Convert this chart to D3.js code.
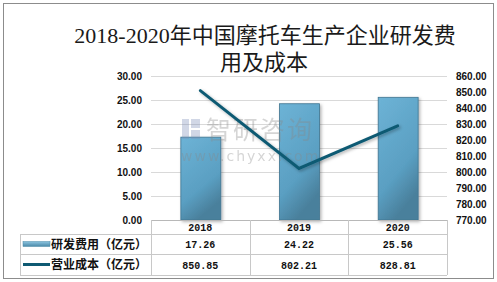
<!DOCTYPE html>
<meta charset="utf-8">
<style>
body { margin: 0; background: #fff; }
svg { display: block; font-family: "Liberation Mono", monospace; }
.tick text, .cell { font-size: 10px; font-weight: bold; fill: #111; }
.grid line { stroke: #d9d9d9; }
.tbl line { stroke: #c8c8c8; }
</style>
<body>
<script src="https://d3js.org/d3.v7.min.js"></script>
<script>

// data
var years = ["2018", "2019", "2020"];
var rdCost = [17.26, 24.22, 25.56];      // 研发费用（亿元）
var opCost = [850.85, 802.21, 828.81];   // 营业成本（亿元）
var leftTicks = [0, 5, 10, 15, 20, 25, 30];
var rightTicks = [770, 780, 790, 800, 810, 820, 830, 840, 850, 860];
var seriesNames = ["研发费用（亿元）", "营业成本（亿元）"];

var W = 497, H = 282;
var plot = {left: 151, right: 447, top: 76, bottom: 220};

var svg = d3.select("body").append("svg")
    .attr("width", W)
    .attr("height", H);

var defs = svg.append("defs");
var grad = defs.append("linearGradient")
    .attr("id", "barFill")
    .attr("x1", 0).attr("y1", 0).attr("x2", 0.4).attr("y2", 1);
grad.append("stop").attr("offset", "0%").attr("stop-color", "#6db3d6");
grad.append("stop").attr("offset", "70%").attr("stop-color", "#5a9fc2");
grad.append("stop").attr("offset", "100%").attr("stop-color", "#4a809c");

var legGrad = defs.append("linearGradient")
    .attr("id", "legFill")
    .attr("x1", 0).attr("y1", 0).attr("x2", 0).attr("y2", 1);
legGrad.append("stop").attr("offset", "0%").attr("stop-color", "#8cc4e0");
legGrad.append("stop").attr("offset", "100%").attr("stop-color", "#4a89a8");

var shadow = defs.append("filter").attr("id", "shadow")
    .attr("x", "-20%").attr("y", "-10%").attr("width", "150%").attr("height", "130%");
shadow.append("feDropShadow")
    .attr("dx", 1.5).attr("dy", 1.5).attr("stdDeviation", 1.5)
    .attr("flood-color", "#000").attr("flood-opacity", 0.3);

// outer frame
svg.append("rect")
    .attr("x", 3.5).attr("y", 3.5)
    .attr("width", 490).attr("height", 275)
    .attr("fill", "none")
    .attr("stroke", "#8c8c8c");

// title
var title = svg.append("text")
    .attr("text-anchor", "middle")
    .style("font-family", "'Liberation Serif', 'Noto Sans CJK SC', serif")
    .style("font-size", "22px")
    .style("fill", "#1a1a1a");
title.append("tspan").attr("x", 265).attr("y", 43).text("2018-2020年中国摩托车生产企业研发费");
title.append("tspan").attr("x", 264).attr("y", 70).text("用及成本");

// scales
var x = d3.scaleBand().domain(years).range([plot.left, plot.right]);
var yL = d3.scaleLinear().domain([0, 30]).range([plot.bottom, plot.top]);
var yR = d3.scaleLinear().domain([770, 860]).range([plot.bottom, plot.top]);

// gridlines
svg.append("g")
    .attr("class", "grid")
    .selectAll("line")
    .data(leftTicks.slice(1))
    .join("line")
    .attr("x1", plot.left).attr("x2", plot.right)
    .attr("y1", function(d) { return Math.round(yL(d)) + 0.5; })
    .attr("y2", function(d) { return Math.round(yL(d)) + 0.5; });

// left axis
var axL = svg.append("g")
    .attr("transform", "translate(" + (plot.left - 9) + ",0)")
    .call(d3.axisLeft(yL).tickValues(leftTicks).tickFormat(d3.format(".2f")).tickSize(0).tickPadding(0));
axL.select(".domain").remove();

// right axis
var axR = svg.append("g")
    .attr("transform", "translate(" + (plot.right + 9) + ",0)")
    .call(d3.axisRight(yR).tickValues(rightTicks).tickFormat(d3.format(".2f")).tickSize(0).tickPadding(0));
axR.select(".domain").remove();

svg.selectAll(".tick text").attr("fill", "#111");

// bars
var barW = x.bandwidth() * 0.405;
svg.append("g")
    .selectAll("rect")
    .data(rdCost)
    .join("rect")
    .attr("x", function(d, i) { return x(years[i]) + x.bandwidth() / 2 - barW / 2 + 0.5; })
    .attr("y", function(d) { return yL(d); })
    .attr("width", barW)
    .attr("height", function(d) { return yL(0) - yL(d); })
    .attr("fill", "url(#barFill)")
    .attr("stroke", "#3f7490")
    .attr("stroke-width", 0.8)
    .attr("filter", "url(#shadow)");

// watermark
var wm = svg.append("g").attr("opacity", 0.35);
wm.append("rect").attr("x", 182).attr("y", 119).attr("width", 7).attr("height", 20).attr("fill", "#7d8fb8");
wm.append("rect").attr("x", 191).attr("y", 119).attr("width", 9).attr("height", 9).attr("fill", "#7d8fb8");
wm.append("rect").attr("x", 191).attr("y", 130).attr("width", 9).attr("height", 9).attr("fill", "#7d8fb8");
wm.append("text")
    .attr("x", 206).attr("y", 139)
    .style("font-family", "'Noto Sans CJK SC', sans-serif")
    .style("font-size", "25px")
    .style("letter-spacing", "2px")
    .style("fill", "#888")
    .text("智研咨询");
wm.append("text")
    .attr("x", 181).attr("y", 161)
    .style("font-family", "'DejaVu Sans', sans-serif")
    .style("font-size", "14px")
    .style("letter-spacing", "2px")
    .style("fill", "#888")
    .text("www.chyxx.com");

// line
var line = d3.line()
    .x(function(d, i) { return x(years[i]) + x.bandwidth() / 2; })
    .y(function(d) { return yR(d); });

svg.append("path")
    .datum(opCost)
    .attr("d", line)
    .attr("fill", "none")
    .attr("stroke", "#0f5a73")
    .attr("stroke-width", 3)
    .attr("stroke-linecap", "round")
    .attr("filter", "url(#shadow)");

// data table
var tbl = svg.append("g").attr("class", "tbl");
var rows = [plot.bottom, 234, 254, 275];
var tblLeft = 20;

// horizontal lines
tbl.append("line")
    .attr("x1", plot.left).attr("x2", plot.right)
    .attr("y1", rows[0] + 0.5).attr("y2", rows[0] + 0.5)
    .style("stroke", "#b8b8b8");
rows.slice(1).forEach(function(r) {
  tbl.append("line")
      .attr("x1", tblLeft).attr("x2", plot.right)
      .attr("y1", r + 0.5).attr("y2", r + 0.5);
});
// vertical lines
tbl.append("line")
    .attr("x1", tblLeft + 0.5).attr("x2", tblLeft + 0.5)
    .attr("y1", rows[1]).attr("y2", rows[3]);
x.domain().forEach(function(yr) {
  tbl.append("line")
      .attr("x1", Math.round(x(yr)) + 0.5).attr("x2", Math.round(x(yr)) + 0.5)
      .attr("y1", rows[0]).attr("y2", rows[3]);
});
tbl.append("line")
    .attr("x1", plot.right + 0.5).attr("x2", plot.right + 0.5)
    .attr("y1", rows[0]).attr("y2", rows[3]);

// header years
tbl.selectAll("text.yr")
    .data(years)
    .join("text")
    .attr("class", "cell yr")
    .attr("x", function(d) { return x(d) + x.bandwidth() / 2; })
    .attr("y", (rows[0] + rows[1]) / 2 + 4)
    .attr("text-anchor", "middle")
    .text(function(d) { return d; });

// value rows
[rdCost, opCost].forEach(function(vals, r) {
  tbl.selectAll("text.v" + r)
      .data(vals)
      .join("text")
      .attr("class", "cell v" + r)
      .attr("x", function(d, i) { return x(years[i]) + x.bandwidth() / 2; })
      .attr("y", (rows[r + 1] + rows[r + 2]) / 2 + 4)
      .attr("text-anchor", "middle")
      .text(function(d) { return d.toFixed(2); });

  tbl.append("text")
      .attr("x", 51)
      .attr("y", (rows[r + 1] + rows[r + 2]) / 2 + 4.5)
      .style("font-family", "'Noto Sans CJK SC', sans-serif")
      .style("font-size", "12px")
      .style("font-weight", "bold")
      .style("fill", "#111")
      .text(seriesNames[r]);
});

// legend keys
var cy1 = (rows[1] + rows[2]) / 2, cy2 = (rows[2] + rows[3]) / 2;
tbl.append("rect")
    .attr("x", 23).attr("y", cy1 - 2.5)
    .attr("width", 27).attr("height", 5)
    .attr("fill", "url(#legFill)")
    .attr("stroke", "#4a89a8")
    .attr("stroke-width", 0.5);
tbl.append("line")
    .attr("x1", 23).attr("x2", 50)
    .attr("y1", cy2).attr("y2", cy2)
    .style("stroke", "#0f5a73")
    .style("stroke-width", 3);

</script>
</body>
